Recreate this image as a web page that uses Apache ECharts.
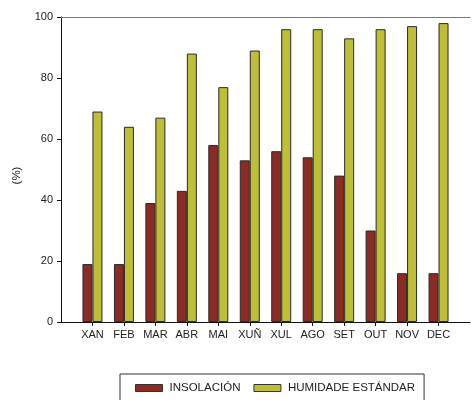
<!DOCTYPE html>
<html>
<head>
<meta charset="utf-8">
<script src="https://cdn.jsdelivr.net/npm/echarts@6/dist/echarts.min.js"></script>
<style>html,body{margin:0;padding:0;background:#fff}#c{width:473px;height:400px}</style>
</head>
<body>
<div id="c"></div>
<script>
var months = ['XAN','FEB','MAR','ABR','MAI','XUÑ','XUL','AGO','SET','OUT','NOV','DEC'];
var insolacion = [19, 19, 39, 43, 58, 53, 56, 54, 48, 30, 16, 16];
var humidade = [69, 64, 67, 88, 77, 89, 96, 96, 93, 96, 97, 98];
var yTicks = [0, 20, 40, 60, 80, 100];

var cats = [''].concat(months).concat(['']);
var s1 = [null].concat(insolacion).concat([null]);
var s2 = [null].concat(humidade).concat([null]);
var font = 'Liberation Sans, Arial, sans-serif';
var chart = echarts.init(document.getElementById('c'));
chart.setOption({
  animation: false,
  textStyle: {fontFamily: font},
  grid: {left: 61, top: 17, width: 422, height: 305},
  legend: {
    left: 120, top: 374, orient: 'horizontal', icon: 'rect',
    borderColor: '#333', borderWidth: 1,
    padding: [8, 9, 9, 15], itemGap: 13, itemWidth: 27, itemHeight: 7,
    itemStyle: {borderWidth: 1, borderColor: '#333'},
    textStyle: {fontSize: 11.5, color: '#222', fontFamily: font, padding: [0, 0, 0, 2]},
    data: ['INSOLACIÓN', 'HUMIDADE ESTÁNDAR']
  },
  xAxis: [{
    type: 'category', data: cats, boundaryGap: false, position: 'bottom',
    axisLine: {lineStyle: {color: '#111', width: 1}},
    axisTick: {length: 4, interval: function (i) { return i > 0 && i < 13; }, lineStyle: {color: '#111'}},
    axisLabel: {interval: 0, fontSize: 11, color: '#222', margin: 7},
    splitLine: {show: false}
  }, {
    type: 'category', data: cats, boundaryGap: false, position: 'top',
    axisLine: {lineStyle: {color: '#777', width: 1}},
    axisTick: {show: false}, axisLabel: {show: false}
  }],
  yAxis: {
    type: 'value', min: 0, max: 100, interval: 20,
    name: '(%)', nameLocation: 'middle', nameRotate: 90, nameGap: 38,
    nameTextStyle: {fontSize: 11.5, color: '#222', padding: [0, 12, 0, 0]},
    axisLine: {show: true, lineStyle: {color: '#111'}},
    axisTick: {show: true, length: 4, lineStyle: {color: '#111'}},
    axisLabel: {fontSize: 11, color: '#222', margin: 8},
    splitLine: {show: false}
  },
  series: [{
    name: 'INSOLACIÓN', type: 'bar', data: s1, barWidth: 10, barGap: '0%',
    itemStyle: {color: '#8c2a24', borderColor: '#2a2a2a', borderWidth: 1}
  }, {
    name: 'HUMIDADE ESTÁNDAR', type: 'bar', data: s2, barWidth: 10, barGap: '0%',
    itemStyle: {color: '#bfbe37', borderColor: '#2a2a2a', borderWidth: 1}
  }]
});
</script>
</body>
</html>
